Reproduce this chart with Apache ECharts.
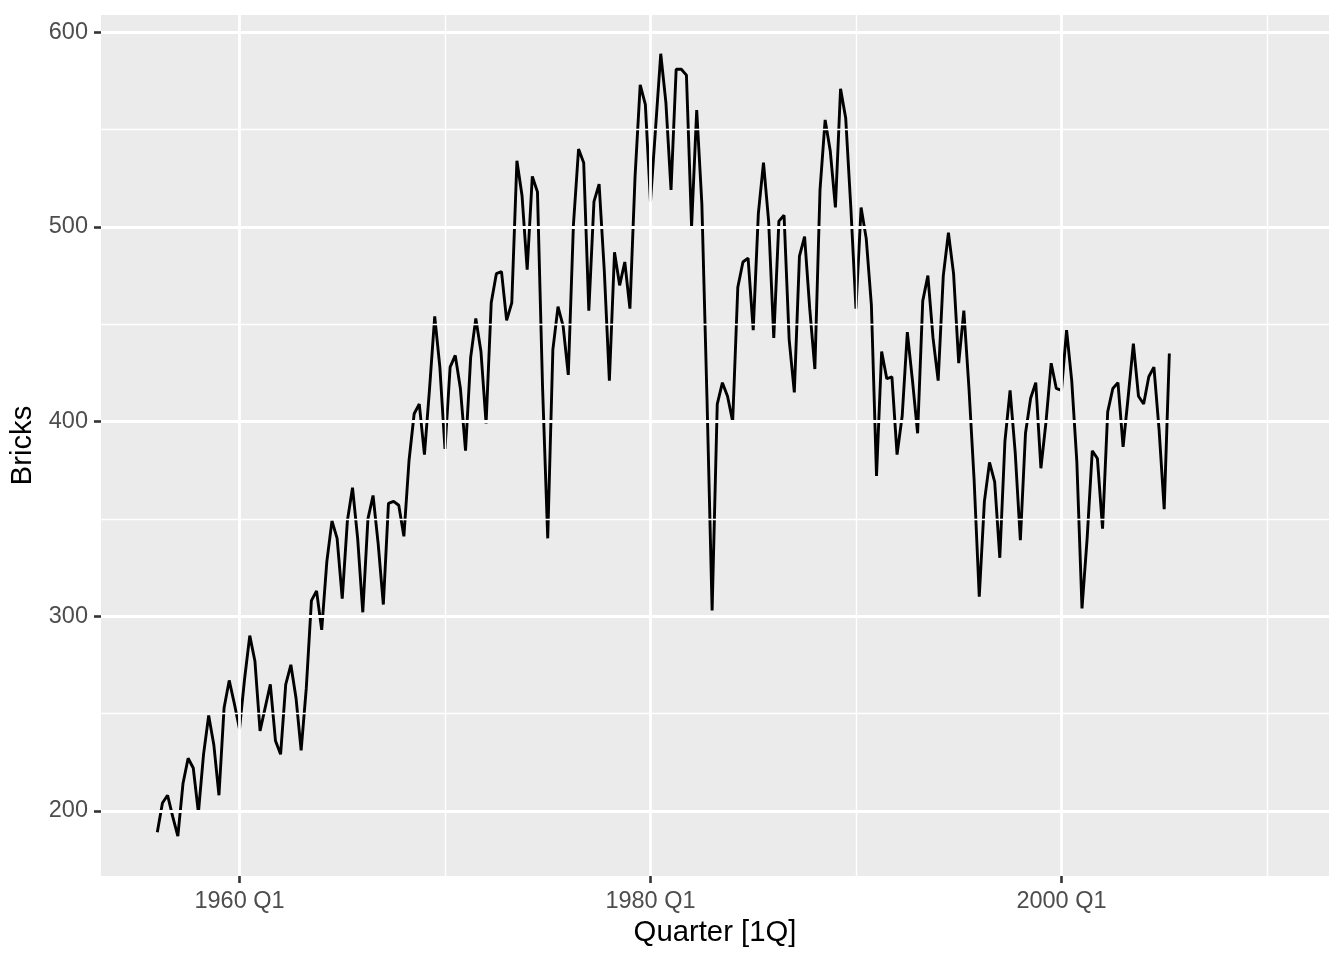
<!DOCTYPE html>
<html><head><meta charset="utf-8">
<script src="https://cdn.jsdelivr.net/npm/echarts@6/dist/echarts.min.js"></script>
<style>html,body{margin:0;padding:0;background:#fff}#c{width:1344px;height:960px}</style>
</head><body><div id="c"></div>
<script>
const startYear = 1956; // first quarter: 1956 Q1
const bricks = [
  189, 204, 208, 197,  187, 214, 227, 222,  199, 229, 249, 234,  208, 253, 267, 255,
  242, 268, 290, 277,  241, 253, 265, 236,  229, 265, 275, 258,  231, 263, 308, 313,
  293, 328, 349, 340,  309, 349, 366, 340,  302, 350, 362, 337,  306, 358, 359, 357,
  341, 380, 404, 409,  383, 417, 454, 428,  386, 428, 434, 417,  385, 433, 453, 436,
  399, 461, 476, 477,  452, 461, 534, 516,  478, 526, 518, 417,  340, 437, 459, 449,
  424, 501, 540, 533,  457, 513, 522, 478,  421, 487, 470, 482,  458, 526, 573, 563,
  513, 551, 589, 564,  519, 581, 581, 578,  500, 560, 512, 412,  303, 409, 420, 413,
  400, 469, 482, 484,  447, 507, 533, 503,  443, 503, 506, 442,  415, 485, 495, 458,
  427, 519, 555, 539,  510, 571, 556, 510,  458, 510, 494, 460,  372, 436, 422, 423,
  383, 403, 446, 421,  394, 462, 475, 443,  421, 475, 497, 476,  430, 457, 417, 370,
  310, 359, 379, 369,  330, 390, 416, 384,  339, 394, 412, 420,  376, 400, 430, 417,
  416, 447, 421, 379,  304, 340, 385, 381,  345, 405, 417, 420,  387, 413, 440, 413,
  409, 423, 428, 396,  355, 435
];
const xTicks = [1960, 1980, 2000];
const xMinorGrid = [1970, 1990, 2010];
const yTicks = [200, 300, 400, 500, 600];
const yMinorGrid = [250, 350, 450, 550];

const data = bricks.map((v, i) => [startYear + i / 4, v]);
const FONT = '"Liberation Sans", Arial, Helvetica, sans-serif';

const chart = echarts.init(document.getElementById('c'), null, {renderer: 'canvas'});
const gridLine = (w) => ({color: '#FFFFFF', width: w, type: 'solid'});
chart.setOption({
  animation: false,
  backgroundColor: '#FFFFFF',
  grid: {left: 101, top: 15, right: 15, bottom: 84, show: true, backgroundColor: '#EBEBEB', borderWidth: 0, containLabel: false},
  xAxis: {
    type: 'value', min: 1953.26, max: 2013.02,
    axisLine: {show: false},
    axisTick: {show: true, customValues: xTicks, length: 7, lineStyle: {color: '#333333', width: 2.6}},
    axisLabel: {customValues: xTicks, formatter: v => v + ' Q1', color: '#4D4D4D', fontSize: 23.5, margin: 14, fontFamily: FONT},
    splitLine: {show: false},
    name: 'Quarter [1Q]', nameLocation: 'middle', nameGap: 40,
    nameTextStyle: {color: '#000000', fontSize: 29.3, fontFamily: FONT}
  },
  yAxis: {
    type: 'value', min: 166.5, max: 608.9,
    axisLine: {show: false},
    axisTick: {show: true, customValues: yTicks, length: 7, lineStyle: {color: '#333333', width: 2.6}},
    axisLabel: {customValues: yTicks, color: '#4D4D4D', fontSize: 23.5, margin: 13, fontFamily: FONT},
    splitLine: {show: false},
    name: 'Bricks', nameLocation: 'middle', nameGap: 58, nameRotate: 90,
    nameTextStyle: {color: '#000000', fontSize: 29.3, fontFamily: FONT}
  },
  series: [
    {
      type: 'line', data: [], z: 1, silent: true,
      markLine: {
        silent: true, symbol: 'none', animation: false, label: {show: false},
        data: [
          ...xMinorGrid.map(v => ({xAxis: v, lineStyle: gridLine(1.4)})),
          ...yMinorGrid.map(v => ({yAxis: v, lineStyle: gridLine(1.4)})),
          ...xTicks.map(v => ({xAxis: v, lineStyle: gridLine(2.8)})),
          ...yTicks.map(v => ({yAxis: v, lineStyle: gridLine(2.8)}))
        ]
      }
    },
    {
      type: 'line', data: data, z: 3, showSymbol: false, symbol: 'none',
      lineStyle: {color: '#000000', width: 2.9}, clip: true
    }
  ]
});
</script>
</body></html>
